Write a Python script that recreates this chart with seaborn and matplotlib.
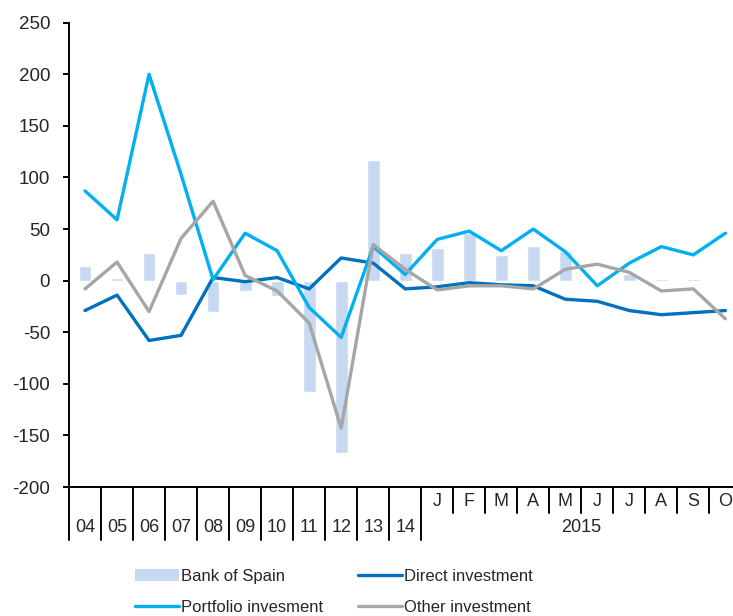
import numpy as np
import pandas as pd
import matplotlib
matplotlib.use('Agg')
import matplotlib.pyplot as plt
import matplotlib.transforms as mtransforms
from matplotlib.patches import Patch
from matplotlib.lines import Line2D
import seaborn as sns

# ------------ data --------------
periods = ['2004', '2005', '2006', '2007', '2008', '2009', '2010', '2011', '2012', '2013', '2014',
           '2015-01', '2015-02', '2015-03', '2015-04', '2015-05', '2015-06', '2015-07', '2015-08',
           '2015-09', '2015-10']
year_labels = ['04', '05', '06', '07', '08', '09', '10', '11', '12', '13', '14']
month_labels = ['J', 'F', 'M', 'A', 'M', 'J', 'J', 'A', 'S', 'O']
month_year_label = '2015'

bank_of_spain = [14, 2.5, 27, -14, -30, -10, -15, -108, -167, 117, 27,
                 32, 46, 25, 34, 29, -1, 6, 2, 2, -1]
direct_investment = [-29, -14, -58, -53, 3, -1, 3, -8, 22, 17, -8,
                     -6, -2, -4, -5, -18, -20, -29, -33, -31, -29]
portfolio_investment = [87, 59, 200, 103, 1, 46, 29, -26, -55, 33, 6,
                        40, 48, 29, 50, 28, -5, 17, 33, 25, 46]
other_investment = [-8, 18, -30, 41, 77, 5, -10, -41, -143, 35, 11,
                    -9, -5, -5, -8, 11, 16, 8, -10, -8, -37]

df = pd.DataFrame({
    'period': periods,
    'Bank of Spain': bank_of_spain,
    'Direct investment': direct_investment,
    'Portfolio invesment': portfolio_investment,
    'Other investment': other_investment,
})

colors = {
    'Bank of Spain': '#C6D9F1',
    'Direct investment': '#0070C0',
    'Portfolio invesment': '#00B0F0',
    'Other investment': '#A6A6A6',
}

sns.set_style('white')
plt.rcParams['font.family'] = ['Liberation Sans', 'DejaVu Sans']
plt.rcParams['font.size'] = 13
plt.rcParams['axes.unicode_minus'] = False

fig = plt.figure(figsize=(7.33, 6.16), dpi=100)
ax = fig.add_axes([69 / 733, 129 / 616, 672.4 / 733, 464.3 / 616])

sns.barplot(data=df, x='period', y='Bank of Spain', color=colors['Bank of Spain'],
            saturation=1, width=0.4, ax=ax, zorder=1)
for name in ['Direct investment', 'Portfolio invesment', 'Other investment']:
    sns.lineplot(data=df, x='period', y=name, color=colors[name], lw=2.4, sort=False,
                 ax=ax, zorder=3)

ax.set_ylim(-200, 250)
ax.set_xlim(-0.5, len(periods) - 0.5)
ax.set_yticks(np.arange(-200, 251, 50))
ax.set_xlabel('')
ax.set_ylabel('')
ax.set_xticks([])

for side in ['top', 'right']:
    ax.spines[side].set_visible(False)
for side in ['left', 'bottom']:
    ax.spines[side].set_color('black')
    ax.spines[side].set_linewidth(1.4)
ax.tick_params(axis='y', direction='out', length=4.5, width=1.4, color='black',
               pad=9, labelsize=13.5, left=True)

# category separators and labels below the axis
trans = mtransforms.blended_transform_factory(ax.transData, ax.transAxes)
n_years = len(year_labels)
for i in range(n_years + 1):
    ax.plot([i - 0.5, i - 0.5], [0, -0.1141], transform=trans, color='black', lw=1.4,
            clip_on=False)
for i in range(n_years + 1, len(periods)):
    ax.plot([i - 0.5, i - 0.5], [0, -0.0567], transform=trans, color='black', lw=1.4,
            clip_on=False)
for i, lab in enumerate(year_labels):
    ax.text(i, -0.0875, lab, transform=trans, ha='center', va='center', fontsize=13)
for j, lab in enumerate(month_labels):
    ax.text(n_years + j, -0.0305, lab, transform=trans, ha='center', va='center', fontsize=13)
ax.text((n_years + len(periods) - 1) / 2, -0.0875, month_year_label, transform=trans,
        ha='center', va='center', fontsize=13)

handles = [
    Patch(facecolor=colors['Bank of Spain'], edgecolor='none'),
    Line2D([], [], color=colors['Portfolio invesment'], lw=2.4),
    Line2D([], [], color=colors['Direct investment'], lw=2.4),
    Line2D([], [], color=colors['Other investment'], lw=2.4),
]
labels = ['Bank of Spain', 'Portfolio invesment', 'Direct investment', 'Other investment']
fig.legend(handles, labels, ncol=2, frameon=False, loc='upper left',
           bbox_to_anchor=(128 / 733, 1 - 562 / 616), handlelength=2.65, handleheight=0.7,
           handletextpad=0.12, columnspacing=2.1, labelspacing=0.95, fontsize=12,
           borderaxespad=0)

fig.savefig('out.png', dpi=100)
